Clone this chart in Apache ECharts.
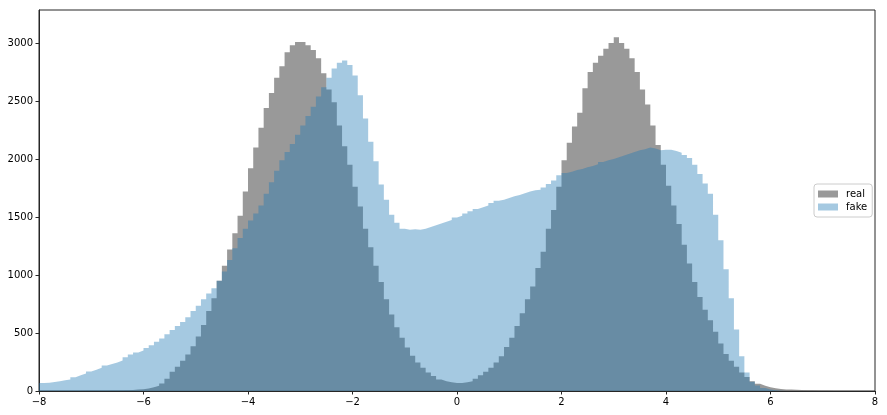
<!DOCTYPE html>
<html>
<head>
<meta charset="utf-8">
<script src="https://cdn.jsdelivr.net/npm/echarts@6/dist/echarts.min.js"></script>
<style>
  html, body { margin: 0; padding: 0; background: #fff; }
  #chart { width: 887px; height: 415px; }
</style>
</head>
<body>
<div id="chart"></div>
<script>
// histogram bins: 0.1 wide, from -8 to 8 (one row per unit)
const binStart = -8
const binWidth = 0.1

const realCounts = [
  0, 0, 0, 0, 0, 1, 1, 1, 2, 2,
  2, 3, 3, 4, 4, 5, 6, 9, 12, 16,
  22, 32, 45, 65, 105, 165, 210, 260, 315, 385,
  470, 570, 690, 800, 950, 1080, 1220, 1360, 1510, 1720,
  1920, 2100, 2270, 2440, 2570, 2700, 2800, 2920, 2980, 3010,
  3010, 2980, 2940, 2870, 2740, 2600, 2490, 2290, 2110, 1950,
  1760, 1590, 1400, 1240, 1080, 940, 790, 660, 550, 460,
  375, 305, 245, 200, 160, 130, 100, 85, 75, 70,
  70, 75, 85, 105, 135, 165, 200, 245, 300, 380,
  460, 560, 670, 790, 900, 1060, 1200, 1400, 1560, 1760,
  1990, 2140, 2280, 2400, 2610, 2750, 2830, 2890, 2950, 3000,
  3050, 3000, 2950, 2870, 2750, 2600, 2470, 2290, 2120, 1950,
  1770, 1600, 1440, 1260, 1100, 940, 810, 700, 610, 510,
  410, 320, 260, 210, 160, 120, 85, 62, 45, 32,
  24, 18, 14, 12, 10, 8, 7, 6, 5, 3,
  2, 1, 1, 0, 0, 0, 0, 0, 0, 0
]

const fakeCounts = [
  70, 72, 78, 85, 92, 100, 118, 135, 150, 168,
  183, 200, 220, 232, 245, 262, 290, 315, 333, 350,
  370, 395, 425, 452, 490, 525, 560, 595, 635, 690,
  735, 790, 840, 885, 950, 1030, 1130, 1230, 1320, 1400,
  1470, 1530, 1600, 1700, 1800, 1900, 1990, 2060, 2130, 2210,
  2290, 2370, 2450, 2540, 2620, 2700, 2780, 2830, 2850, 2810,
  2720, 2550, 2350, 2150, 1980, 1780, 1650, 1520, 1450, 1400,
  1390, 1395, 1390, 1400, 1415, 1430, 1445, 1460, 1475, 1495,
  1510, 1530, 1550, 1570, 1585, 1600, 1620, 1640, 1650, 1665,
  1680, 1690, 1705, 1720, 1730, 1735, 1755, 1785, 1815, 1860,
  1880, 1890, 1905, 1915, 1930, 1940, 1955, 1975, 1990, 2000,
  2015, 2030, 2045, 2060, 2075, 2085, 2100, 2090, 2075, 2080,
  2080, 2070, 2055, 2035, 2010, 1950, 1870, 1790, 1700, 1520,
  1300, 1050, 800, 530, 300, 160, 80, 48, 26, 12,
  6, 3, 1, 0, 0, 0, 0, 0, 0, 0,
  0, 0, 0, 0, 0, 0, 0, 0, 0, 0
]

const seriesNames = ['real', 'fake']
const xTicks = [-8, -6, -4, -2, 0, 2, 4, 6, 8]
const yTicks = [0, 500, 1000, 1500, 2000, 2500, 3000]

// step points: left edge of each bin, plus the closing right edge
const toSteps = (counts) => {
  const pts = counts.map((c, i) => [+(binStart + i * binWidth).toFixed(2), c])
  pts.push([+(binStart + counts.length * binWidth).toFixed(2), counts[counts.length - 1]])
  return pts
}

const font = 'DejaVu Sans'
const chart = echarts.init(document.getElementById('chart'), null, {renderer: 'canvas'})

const option = {
  animation: false,
  backgroundColor: '#fff',
  grid: {
    left: 39, right: 12, top: 10, bottom: 24,
    show: true, borderColor: '#262626', borderWidth: 1
  },
  legend: {
    orient: 'vertical',
    left: 814, top: 184,
    padding: [5, 5, 5, 4],
    itemWidth: 20, itemHeight: 7,
    itemGap: 3,
    icon: 'rect',
    backgroundColor: '#fff',
    borderColor: '#cccccc',
    borderWidth: 1,
    borderRadius: 3,
    textStyle: {fontFamily: font, fontSize: 10, color: '#000', padding: [0, 0, 0, 3]},
    data: seriesNames
  },
  xAxis: {
    type: 'value',
    min: -8, max: 8, interval: 2,
    axisLine: {show: true, onZero: false, lineStyle: {color: '#262626'}},
    axisTick: {show: true, length: 3.5, lineStyle: {color: '#262626'}, customValues: xTicks},
    axisLabel: {
      fontFamily: font, fontSize: 10, color: '#000', margin: 6,
      customValues: xTicks,
      formatter: (v) => String(v).replace('-', '\u2212')
    },
    splitLine: {show: false}
  },
  yAxis: {
    type: 'value',
    min: 0, max: 3285, interval: 500,
    axisLine: {show: true, onZero: false, lineStyle: {color: '#262626'}},
    axisTick: {show: true, length: 3.5, lineStyle: {color: '#262626'}, customValues: yTicks},
    axisLabel: {
      fontFamily: font, fontSize: 10, color: '#000', margin: 6,
      customValues: yTicks,
      formatter: (v) => String(v)
    },
    splitLine: {show: false}
  },
  series: [
    {
      name: seriesNames[0],
      type: 'line',
      step: 'end',
      data: toSteps(realCounts),
      showSymbol: false,
      color: 'rgba(128,128,128,0.8)',
      lineStyle: {width: 0},
      areaStyle: {color: 'rgba(128,128,128,0.8)', opacity: 1},
      z: 2
    },
    {
      name: seriesNames[1],
      type: 'line',
      step: 'end',
      data: toSteps(fakeCounts),
      showSymbol: false,
      color: 'rgba(31,119,180,0.4)',
      lineStyle: {width: 0},
      areaStyle: {color: 'rgba(31,119,180,0.4)', opacity: 1},
      z: 3
    }
  ]
}

chart.setOption(option)
</script>
</body>
</html>
